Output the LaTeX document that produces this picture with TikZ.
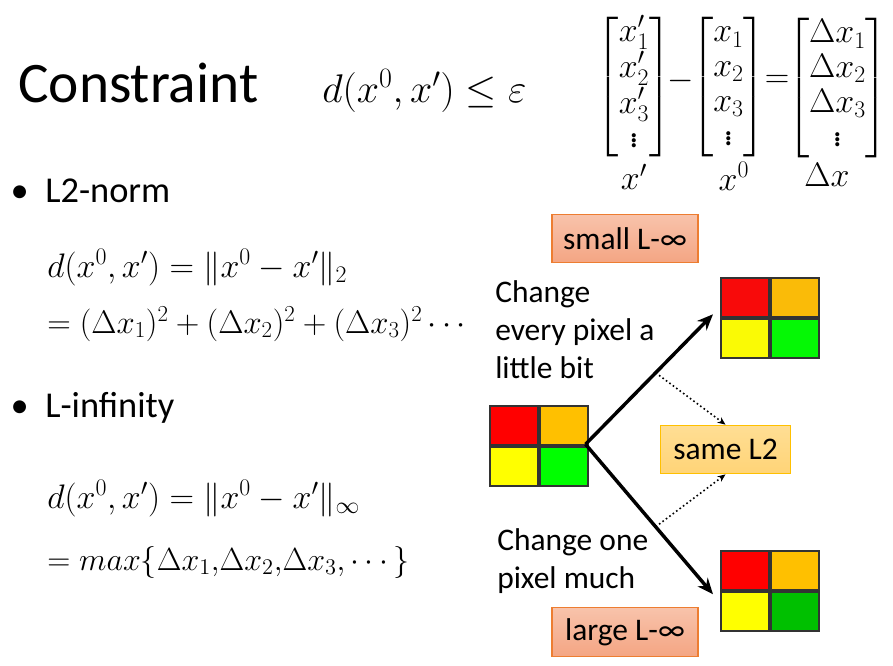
\RequirePackage{fix-cm}
\documentclass[tikz,border=0pt]{standalone}
\usepackage{amsmath}
\usepackage[no-math]{fontspec}
\setmainfont{Carlito}
\usetikzlibrary{arrows.meta,positioning,calc}
\definecolor{PixRed}{HTML}{FF0000}
\definecolor{PixOrange}{HTML}{FFC000}
\definecolor{PixYellow}{HTML}{FFFF00}
\definecolor{PixGreen}{HTML}{00FF00}
\definecolor{PixDarkGreen}{HTML}{00C000}
\definecolor{ShRed}{HTML}{F80A0A}
\definecolor{ShOrange}{HTML}{FABB08}
\definecolor{ShYellow}{HTML}{FAFA05}
\definecolor{ShGreen}{HTML}{05F805}
\definecolor{GridLine}{HTML}{333333}
\definecolor{SalmonTop}{HTML}{F8C3AB}
\definecolor{SalmonBot}{HTML}{F4A583}
\definecolor{SalmonLine}{HTML}{ED7D31}
\definecolor{GoldTop}{HTML}{FFDE94}
\definecolor{GoldBot}{HTML}{FFD477}
\definecolor{GoldLine}{HTML}{FFC000}
\tikzset{
  head/.style={inner sep=0pt,font=\fontsize{43}{50}\selectfont},
  item/.style={inner sep=0pt,font=\fontsize{27.3}{32}\selectfont},
  txt/.style={inner sep=0pt,align=left,font=\fontsize{23.6}{28.5}\selectfont},
  eq/.style={inner sep=0pt,font=\fontsize{25.5}{30}\selectfont},
  vec/.style={inner sep=0pt,font=\fontsize{25.5}{26}\selectfont},
  cell/.style={draw=GridLine,line width=1.4pt,minimum width=36pt,minimum height=29.25pt,inner sep=0pt,anchor=north west},
  tag/.style={draw=SalmonLine,line width=.8pt,top color=SalmonTop,bottom color=SalmonBot,minimum width=109.5pt,minimum height=36.5pt,inner sep=0pt,font=\fontsize{23.6}{28}\selectfont},
  goldtag/.style={tag,draw=GoldLine,top color=GoldTop,bottom color=GoldBot,minimum width=98pt},
  move/.style={-{Stealth[length=12pt,width=10pt]},line width=2.6pt},
  same/.style={-{Stealth[length=6pt,width=5pt]},dotted,line width=1.2pt},
}
% 2x2 pixel image: name, top-left x, top-left y, four colours
\newcommand{\pixgrid}[7]{%
  \node[cell,fill=#4] (#1-a) at (#2,#3) {};
  \node[cell,fill=#5] (#1-b) at (#1-a.north east) {};
  \node[cell,fill=#6] (#1-c) at (#1-a.south west) {};
  \node[cell,fill=#7] (#1-d) at (#1-a.south east) {};
  \node[minimum width=72pt,minimum height=58.5pt,inner sep=0pt,anchor=north west] (#1) at (#2,#3) {};
}
\begin{document}
\begin{tikzpicture}[x=0.75pt,y=-0.75pt]
  \useasboundingbox[fill=white] (0,0) rectangle (893,665);
  % heading and the vectors
  \node[head,anchor=base west] (title) at (18,102) {Constraint};
  \node[eq,font=\fontsize{30}{32}\selectfont,anchor=base west] (dist) at (322,102) {$d(x^0,x')\le\varepsilon$};
  \node[vec] (m1) at (634,87) {$\begin{bmatrix}x'_1\\x'_2\\x'_3\\\vdots\end{bmatrix}$};
  \node[vec] (minus) at (681,81) {$-$};
  \node[vec] (m2) at (728.5,87) {$\begin{bmatrix}x_1\\x_2\\x_3\\\vdots\end{bmatrix}$};
  \node[vec] (eqs) at (777,81) {$=$};
  \node[vec] (m3) at (837.5,88) {$\begin{bmatrix}\Delta x_1\\\Delta x_2\\\Delta x_3\\\vdots\end{bmatrix}$};
  \node[vec,below=4pt of m1] (xp) {$x'$};
  \node[vec,below=4pt of m2,xshift=4pt] (x0) {$x^0$};
  \node[vec,below=4pt of m3,xshift=-8pt] (dx) {$\Delta x$};

  % the two norms
  \node[item,anchor=base west] (l2) at (45,202) {L2-norm};
  \node[item,anchor=base east] (b1) at ([xshift=-12pt]l2.base west) {\textbullet};
  \node[eq,anchor=base west] (eqa) at (47,277) {$d(x^0,x')=\|x^0-x'\|_2$};
  \node[eq,font=\fontsize{24.5}{30}\selectfont,anchor=base west] (eqb) at (47,333) {$=(\Delta x_1)^2+(\Delta x_2)^2+(\Delta x_3)^2\cdots$};
  \node[item,anchor=base west] (linf) at (45,417) {L-infinity};
  \node[item,anchor=base east] (b2) at ([xshift=-12pt]linf.base west) {\textbullet};
  \node[eq,anchor=base west] (eqc) at (47,508) {$d(x^0,x')=\|x^0-x'\|_\infty$};
  \node[eq,font=\fontsize{24}{30}\selectfont,anchor=base west] (eqd) at (47,570) {$=max\{\Delta x_1{,}\Delta x_2{,}\Delta x_3{,}\cdots\}$};

  % pixels
  \pixgrid{gl}{489}{405}{PixRed}{PixOrange}{PixYellow}{PixGreen}
  \pixgrid{gtr}{720}{277}{ShRed}{ShOrange}{ShYellow}{ShGreen}
  \pixgrid{gbr}{720}{550}{PixRed}{PixOrange}{PixYellow}{PixDarkGreen}

  \node[tag] (smallinf) at (625,238.5) {small L-∞};
  \node[goldtag] (samel2) at (725.5,449.5) {same L2};
  \node[tag] (largeinf) at (625,632) {large L-∞};
  \node[txt,anchor=base west] (every) at (495,378) {Change\\every pixel a\\little bit};
  \node[txt,anchor=base west] (one) at (497,588) {Change one\\pixel much};

  \draw[move] (gl.east) -- coordinate[pos=.55] (pu) ([shift={(-7,-2)}]gtr.west);
  \draw[move] (gl.east) -- coordinate[pos=.55] (pd) ([shift={(-7,5)}]gbr.west);
  \draw[same] (pu) -- (samel2.north);
  \draw[same] (pd) -- (samel2.south);
\end{tikzpicture}
\end{document}
